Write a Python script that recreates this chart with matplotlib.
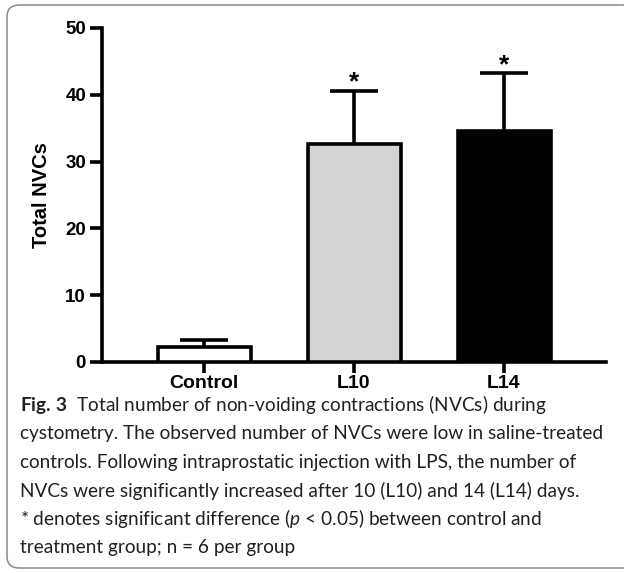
import matplotlib
matplotlib.use("Agg")
import matplotlib.pyplot as plt
from matplotlib.patches import FancyBboxPatch

# data
groups = ["Control", "L10", "L14"]
means = [2.2, 32.6, 34.6]
err_upper = [1.1, 8.0, 8.6]
fills = ["white", "#d3d3d3", "black"]
stars = ["", "*", "*"]
y_ticks = [0, 10, 20, 30, 40, 50]

caption_lines = [
    r"$\mathbf{Fig.\,3}$  Total number of non-voiding contractions (NVCs) during",
    "cystometry. The observed number of NVCs were low in saline-treated",
    "controls. Following intraprostatic injection with LPS, the number of",
    "NVCs were significantly increased after 10 (L10) and 14 (L14) days.",
    r"* denotes significant difference ($p$ < 0.05) between control and",
    "treatment group; n = 6 per group",
]

W, H = 624, 573
LW = 2.6  # line width of axes, bars and error bars (pt)
CHART_FONT = "Liberation Sans"
CAPTION_FONT = "Lato"

plt.rcParams["mathtext.fontset"] = "custom"
plt.rcParams["mathtext.rm"] = CAPTION_FONT
plt.rcParams["mathtext.it"] = CAPTION_FONT + ":italic"
plt.rcParams["mathtext.bf"] = CAPTION_FONT + ":bold"

fig = plt.figure(figsize=(W / 100, H / 100), dpi=100)

# rounded frame round the whole figure + caption
frame = FancyBboxPatch((7 / W, 1 - 568 / H), (636 - 7) / W, (568 - 5) / H,
                       boxstyle="round,pad=0,rounding_size=0.02",
                       transform=fig.transFigure, facecolor="none",
                       edgecolor="#8a8a8a", linewidth=1.1, clip_on=False)
fig.patches.append(frame)

ax = fig.add_axes([102 / W, 1 - 362 / H, (606 - 102) / W, (362 - 28) / H])
x = list(range(len(groups)))
tops = [m + e for m, e in zip(means, err_upper)]

# error bars: upper half only, drawn under the bars
ax.vlines(x, means, tops, color="black", linewidth=LW, zorder=2)
ax.hlines(tops, [i - 0.16 for i in x], [i + 0.16 for i in x],
          color="black", linewidth=LW, zorder=2)
ax.bar(x, means, width=0.62, color=fills, edgecolor="black",
       linewidth=LW, zorder=3)

for xi, top, s in zip(x, tops, stars):
    if s:
        ax.annotate(s, (xi, top), xytext=(0, 1), textcoords="offset points",
                    ha="center", va="baseline", fontsize=19,
                    fontweight="bold", family=CHART_FONT)

ax.set_xlim(-0.68, 2.68)
ax.set_ylim(0, 50)
ax.set_yticks(y_ticks)
ax.set_xticks(x)
ax.set_xticklabels(groups)
for side in ("top", "right"):
    ax.spines[side].set_visible(False)
for side in ("left", "bottom"):
    ax.spines[side].set_linewidth(LW)
ax.tick_params(axis="y", width=LW, length=8.5, direction="out", pad=3)
ax.tick_params(axis="x", width=LW, length=8, direction="out", pad=1.5)
for lab in ax.get_yticklabels():
    lab.set_fontsize(13.5)
    lab.set_fontweight("bold")
    lab.set_family(CHART_FONT)
for lab in ax.get_xticklabels():
    lab.set_fontsize(14)
    lab.set_fontweight("bold")
    lab.set_family(CHART_FONT)
ax.text(-0.12, 0.5, "Total NVCs", transform=ax.transAxes, rotation=90,
        ha="center", va="center", fontsize=14.5, fontweight="bold",
        family=CHART_FONT)

# caption: size chosen so the longest line fills the frame width
probe = fig.text(0, 0, caption_lines[1], fontsize=10, family=CAPTION_FONT)
fig.canvas.draw()
cap_size = 10 * (604 - 20) / probe.get_window_extent().width
probe.remove()

baselines = [411, 439.5, 468, 496.5, 525, 553.5]
for line, yb in zip(caption_lines, baselines):
    fig.text(20 / W, 1 - yb / H, line, fontsize=cap_size, family=CAPTION_FONT,
             color="#231f20", ha="left", va="baseline")

fig.savefig("out.png", dpi=100)
